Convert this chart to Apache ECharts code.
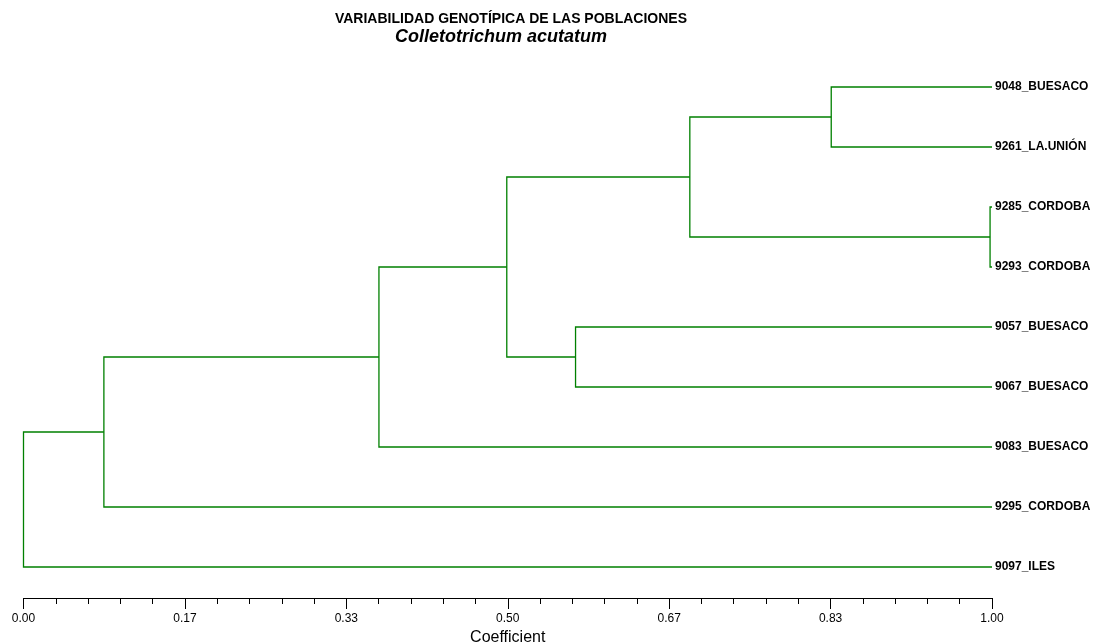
<!DOCTYPE html>
<html>
<head>
<meta charset="utf-8">
<title>Variabilidad genotípica de las poblaciones</title>
<script src="https://cdn.jsdelivr.net/npm/echarts@6/dist/echarts.min.js"></script>
<style>
  html, body { margin: 0; padding: 0; background: #fff; }
  #chart { width: 1095px; height: 643px; }
</style>
</head>
<body>
<div id="chart"></div>
<script>
// Isolates, top to bottom in leaf order
const leaves = [
  '9048_BUESACO', '9261_LA.UNIÓN', '9285_CORDOBA', '9293_CORDOBA',
  '9057_BUESACO', '9067_BUESACO', '9083_BUESACO', '9295_CORDOBA', '9097_ILES'
];

// Agglomeration steps: node ids 0..8 are leaves, each merge creates node 9, 10, ...
const mergeLeft  = [0, 2,  9, 4, 11, 13, 14, 15];
const mergeRight = [1, 3, 10, 5, 12,  6,  7,  8];
const mergeCoef  = [0.834, 0.998, 0.688, 0.570, 0.499, 0.367, 0.083, 0.0];

// Similarity axis ticks
const tickLabels = ['0.00', '0.17', '0.33', '0.50', '0.67', '0.83', '1.00'];

// Leaves sit at coefficient 1; each cluster sits midway between its two children
const nodeCoef = leaves.map(() => 1);
const nodeRow = leaves.map((_, i) => i);
const links = [];
mergeCoef.forEach((c, k) => {
  const a = mergeLeft[k], b = mergeRight[k];
  links.push([c, nodeRow[a], nodeRow[b], nodeCoef[a], nodeCoef[b]]);
  nodeCoef.push(c);
  nodeRow.push((nodeRow[a] + nodeRow[b]) / 2);
});

const chart = echarts.init(document.getElementById('chart'), null, { renderer: 'canvas' });

chart.setOption({
  animation: false,
  backgroundColor: '#ffffff',
  title: [
    {
      text: 'VARIABILIDAD GENOTÍPICA DE LAS POBLACIONES',
      left: 506, top: 7, textAlign: 'center',
      textStyle: { fontFamily: 'Liberation Sans', fontWeight: 'bold', fontSize: 14, color: '#000' }
    },
    {
      text: 'Colletotrichum acutatum',
      left: 496, top: 23, textAlign: 'center',
      textStyle: { fontFamily: 'Liberation Sans', fontStyle: 'italic', fontWeight: 'bold', fontSize: 18, color: '#000' }
    }
  ],
  grid: { left: 23.5, right: 103, top: 87, bottom: 76, containLabel: false, outerBoundsMode: 'none' },
  xAxis: {
    type: 'value',
    position: 'bottom',
    min: 0, max: 1, interval: 1 / 6,
    offset: 31,
    name: 'Coefficient',
    nameLocation: 'middle',
    nameGap: 29,
    nameTextStyle: { fontFamily: 'Liberation Sans', fontSize: 16, color: '#000' },
    axisLine: { show: true, onZero: false, lineStyle: { color: '#000', width: 1 } },
    axisTick: { show: true, length: 11, lineStyle: { color: '#000', width: 1 } },
    minorTick: { show: true, splitNumber: 5, length: 6, lineStyle: { color: '#000', width: 1 } },
    axisLabel: {
      margin: 15,
      fontFamily: 'Liberation Sans', fontSize: 12, color: '#000',
      formatter: v => tickLabels[Math.round(v * 6)]
    },
    splitLine: { show: false },
    minorSplitLine: { show: false }
  },
  yAxis: {
    type: 'value',
    min: 0, max: leaves.length - 1, interval: 1,
    inverse: true,
    position: 'right',
    axisLine: { show: false, onZero: false },
    axisTick: { show: false },
    splitLine: { show: false },
    axisLabel: {
      margin: 3,
      fontFamily: 'Liberation Sans', fontWeight: 'bold', fontSize: 12, color: '#000',
      formatter: v => leaves[Math.round(v)]
    }
  },
  series: [{
    type: 'custom',
    coordinateSystem: 'cartesian2d',
    clip: false,
    encode: { x: [0, 3, 4], y: [1, 2] },
    data: links,
    renderItem: (params, api) => {
      const c = api.value(0), ra = api.value(1), rb = api.value(2);
      const ca = api.value(3), cb = api.value(4);
      const pts = [
        api.coord([ca, ra]),
        api.coord([c, ra]),
        api.coord([c, rb]),
        api.coord([cb, rb])
      ];
      return {
        type: 'polyline',
        shape: { points: pts },
        style: { fill: null, stroke: '#008000', lineWidth: 1.3 }
      };
    }
  }]
});
</script>
</body>
</html>
